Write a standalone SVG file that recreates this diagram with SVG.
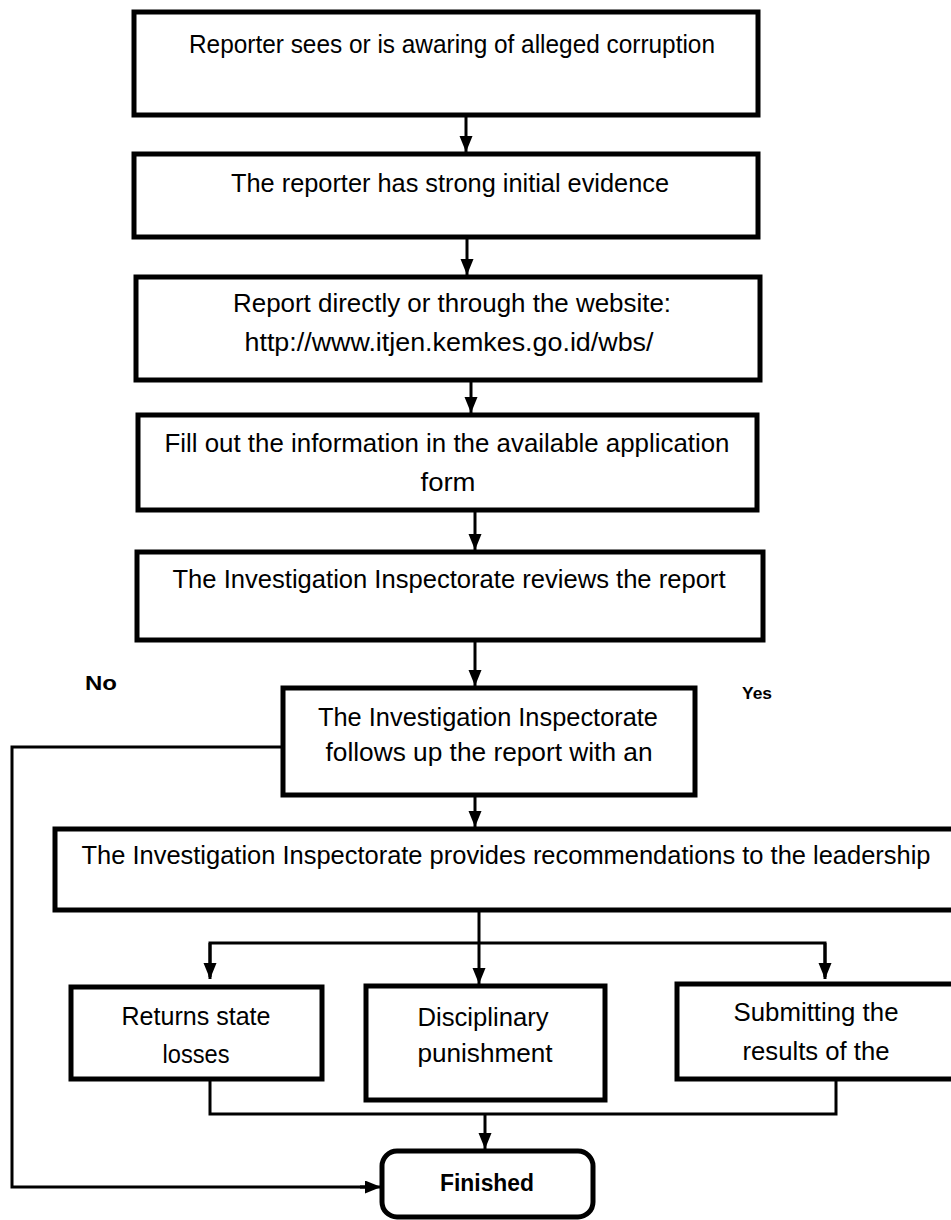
<svg xmlns="http://www.w3.org/2000/svg" width="951" height="1220" viewBox="0 0 951 1220">
<defs>
<marker id="ah" markerUnits="userSpaceOnUse" markerWidth="16" markerHeight="14" refX="16" refY="6.5" orient="auto">
<path d="M0,0 L16,6.5 L0,13 Z" fill="#000"/>
</marker>
<style>
.box{fill:#fff;stroke:#000;stroke-width:5}
.t{font-family:"Liberation Sans",Arial,sans-serif;font-size:25px;fill:#000;text-anchor:middle}
.b{font-family:"Liberation Sans",Arial,sans-serif;font-weight:bold;fill:#000;text-anchor:middle}
.c{fill:none;stroke:#000;stroke-width:3}
.ca{fill:none;stroke:#000;stroke-width:3;marker-end:url(#ah)}
</style>
</defs>
<rect width="951" height="1220" fill="#fff"/>
<g id="connectors">
<line class="ca" x1="466" y1="115" x2="466" y2="152"/>
<line class="ca" x1="467" y1="237" x2="467" y2="275"/>
<line class="ca" x1="471" y1="380" x2="471" y2="413"/>
<line class="ca" x1="475" y1="510" x2="475" y2="550"/>
<line class="ca" x1="475" y1="640" x2="475" y2="686"/>
<line class="ca" x1="475" y1="795" x2="475" y2="827"/>
<line class="ca" x1="479" y1="912" x2="479" y2="984"/>
<polyline class="c" points="210,977 210,943 825,943 825,977"/>
<line class="ca" x1="210" y1="943" x2="210" y2="979"/>
<line class="ca" x1="825" y1="943" x2="825" y2="979"/>
<polyline class="c" points="210,1079 210,1114 836,1114 836,1079"/>
<line class="ca" x1="485" y1="1114" x2="485" y2="1149"/>
<polyline class="c" points="283,747 12,747 12,1187 370,1187"/>
<line class="ca" x1="360" y1="1187" x2="381" y2="1187"/>
</g>
<g id="n1"><rect class="box" x="134" y="12" width="624" height="103"/>
<text class="t" x="452" y="53" textLength="526" lengthAdjust="spacingAndGlyphs">Reporter sees or is awaring of alleged corruption</text></g>
<g id="n2"><rect class="box" x="134" y="154" width="624" height="83"/>
<text class="t" x="450" y="192" textLength="438" lengthAdjust="spacingAndGlyphs">The reporter has strong initial evidence</text></g>
<g id="n3"><rect class="box" x="136" y="277" width="624" height="103"/>
<text class="t" x="452" y="312" textLength="438" lengthAdjust="spacingAndGlyphs">Report directly or through the website:</text>
<text class="t" x="449" y="351" textLength="409" lengthAdjust="spacingAndGlyphs">http://www.itjen.kemkes.go.id/wbs/</text></g>
<g id="n4"><rect class="box" x="138" y="415" width="619" height="95"/>
<text class="t" x="447" y="452" textLength="565" lengthAdjust="spacingAndGlyphs">Fill out the information in the available application</text>
<text class="t" x="448" y="491" textLength="55" lengthAdjust="spacingAndGlyphs">form</text></g>
<g id="n5"><rect class="box" x="137" y="552" width="626" height="88"/>
<text class="t" x="449" y="588" textLength="553" lengthAdjust="spacingAndGlyphs">The Investigation Inspectorate reviews the report</text></g>
<g id="n6"><rect class="box" x="283" y="688" width="412" height="107"/>
<text class="t" x="488" y="726" textLength="340" lengthAdjust="spacingAndGlyphs">The Investigation Inspectorate</text>
<text class="t" x="489" y="761" textLength="327" lengthAdjust="spacingAndGlyphs">follows up the report with an</text></g>
<text class="b" x="101" y="690" font-size="21" textLength="32" lengthAdjust="spacingAndGlyphs">No</text>
<text class="b" x="757" y="699" font-size="16" textLength="30" lengthAdjust="spacingAndGlyphs">Yes</text>
<g id="n7"><rect class="box" x="55" y="829" width="910" height="81"/>
<text class="t" x="506" y="864" textLength="849" lengthAdjust="spacingAndGlyphs">The Investigation Inspectorate provides recommendations to the leadership</text></g>
<g id="n8"><rect class="box" x="71" y="987" width="251" height="92"/>
<text class="t" x="196" y="1025" textLength="149" lengthAdjust="spacingAndGlyphs">Returns state</text>
<text class="t" x="196" y="1063" textLength="67" lengthAdjust="spacingAndGlyphs">losses</text></g>
<g id="n9"><rect class="box" x="366" y="986" width="239" height="114"/>
<text class="t" x="483" y="1026" textLength="131" lengthAdjust="spacingAndGlyphs">Disciplinary</text>
<text class="t" x="485" y="1062" textLength="135" lengthAdjust="spacingAndGlyphs">punishment</text></g>
<g id="n10"><rect class="box" x="677" y="984" width="290" height="95"/>
<text class="t" x="816" y="1021" textLength="165" lengthAdjust="spacingAndGlyphs">Submitting the</text>
<text class="t" x="816" y="1060" textLength="147" lengthAdjust="spacingAndGlyphs">results of the</text></g>
<g id="n11"><rect class="box" x="382" y="1151" width="211" height="66" rx="15" ry="15"/>
<text class="b" x="487" y="1191" font-size="23" textLength="94" lengthAdjust="spacingAndGlyphs">Finished</text></g>
</svg>
